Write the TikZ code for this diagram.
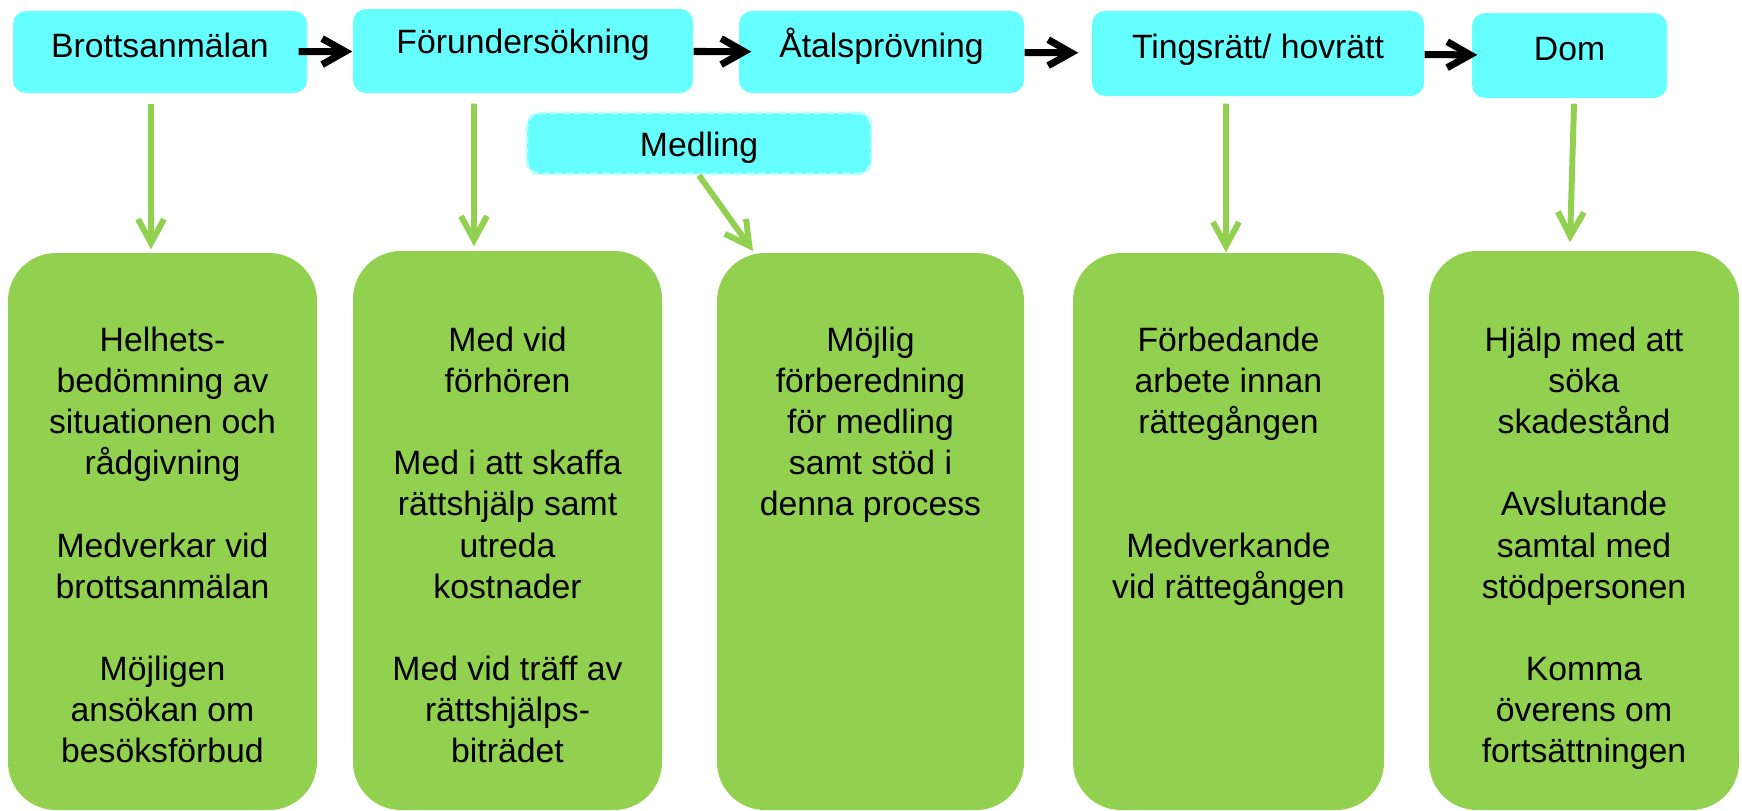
\documentclass[tikz,border=0pt]{standalone}
\usepackage{fontspec}
\setmainfont{Liberation Sans}
\usepackage{tikz}
\usetikzlibrary{arrows.meta,positioning}

\definecolor{turkos}{RGB}{102,255,255}
\definecolor{ljusturkos}{RGB}{180,255,255}
\definecolor{gron}{RGB}{146,208,80}

\begin{document}
\begin{tikzpicture}[x=0.1mm, y=-0.1mm,
	steg/.style={fill=turkos, rounded corners=1.3mm, inner sep=0pt,
		font=\fontsize{9.6}{11.7}\selectfont, text height=7.2pt, text depth=4.3pt},
	stod/.style={fill=gron, rounded corners=4.8mm, inner sep=0pt},
	stodtext/.style={align=center, inner sep=0pt, font=\fontsize{9.6}{11.7}\selectfont},
	svartpil/.style={-{Straight Barb[length=2.3mm,width=2.6mm]}, line width=2pt},
	gronpil/.style={-{Straight Barb[length=2.4mm,width=2.6mm]}, draw=gron, line width=1.7pt}]
	\useasboundingbox (0,0) rectangle (1742,810);

	% stegen i processen
	\node[steg, minimum width=29.4mm, minimum height=8.2mm] (brott) at (160,52) {Brottsanmälan};
	\node[steg, minimum width=34mm, minimum height=8.4mm, text depth=6pt] (forund) at (523,51) {Förundersökning};
	\node[steg, minimum width=28.5mm, minimum height=8.2mm] (atal) at (881.5,52) {Åtalsprövning};
	\node[steg, minimum width=33.2mm, minimum height=8.5mm] (ting) at (1258,53.5) {Tingsrätt/ hovrätt\hspace{3.2mm}};
	\node[steg, minimum width=19.5mm, minimum height=8.5mm] (dom) at (1569.5,55.5) {Dom};
	\node[steg, draw=ljusturkos, line width=0.8pt, dash pattern=on 0.8mm off 0.4mm,
		minimum width=34.4mm, minimum height=6.1mm, text depth=0pt] (medl) at (699,143.5) {Medling};

	% stödet
	\node[stod, minimum width=30.9mm, minimum height=55.7mm] (hjalp1) at (162.5,531.5) {};
	\node[stod, minimum width=30.9mm, minimum height=55.9mm] (hjalp2) at (507.5,530.5) {};
	\node[stod, minimum width=30.7mm, minimum height=55.7mm] (hjalp3) at (870.5,531.5) {};
	\node[stod, minimum width=31.1mm, minimum height=55.7mm] (hjalp4) at (1228.5,531.5) {};
	\node[stod, minimum width=31mm, minimum height=55.9mm] (hjalp5) at (1584,530.5) {};

	\node[stodtext, below=7.4mm of hjalp1.north] (text1) {Helhets-\\bedömning av\\situationen och\\rådgivning\\[\baselineskip]Medverkar vid\\brottsanmälan\\[\baselineskip]Möjligen\\ansökan om\\besöksförbud};
	\node[stodtext, below=7.6mm of hjalp2.north] (text2) {Med vid\\förhören\\[\baselineskip]Med i att skaffa\\rättshjälp samt\\utreda\\kostnader\\[\baselineskip]Med vid träff av\\rättshjälps-\\biträdet};
	\node[stodtext, below=7.4mm of hjalp3.north] (text3) {Möjlig\\förberedning\\för medling\\samt stöd i\\denna process};
	\node[stodtext, below=7.4mm of hjalp4.north] (text4) {Förbedande\\arbete innan\\rättegången\\[2\baselineskip]Medverkande\\vid rättegången};
	\node[stodtext, below=7.6mm of hjalp5.north] (text5) {Hjälp med att\\söka\\skadestånd\\[\baselineskip]Avslutande\\samtal med\\stödpersonen\\[\baselineskip]Komma\\överens om\\fortsättningen};

	\coordinate (medpil) at (753,251);

	\path (brott) edge[svartpil, shorten <=-0.9mm] (forund)
		(forund) edge[svartpil, shorten >=-1.3mm] (atal)
		(atal) edge[svartpil, shorten >=1.3mm] (ting)
		(ting) edge[svartpil, shorten >=-0.6mm] (dom);

	\draw[gronpil] ([xshift=-0.9mm,yshift=-1mm]brott.south) -- ([xshift=-1.15mm,yshift=0.3mm]hjalp1.north);
	\draw[gronpil] ([xshift=-4.9mm,yshift=-1mm]forund.south) -- ([xshift=-3.35mm,yshift=0.4mm]hjalp2.north);
	\draw[gronpil] (medl.south) -- (medpil);
	\draw[gronpil] ([xshift=-3.2mm,yshift=-0.7mm]ting.south) -- ([xshift=-0.25mm]hjalp4.north);
	\draw[gronpil] ([xshift=0.45mm,yshift=-0.5mm]dom.south) -- ([xshift=-1.4mm,yshift=0.8mm]hjalp5.north);
\end{tikzpicture}
\end{document}
